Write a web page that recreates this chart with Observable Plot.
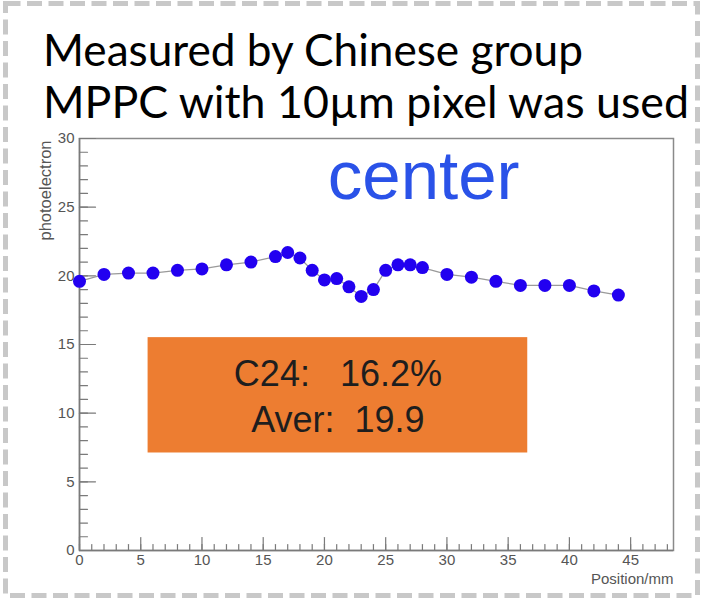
<!DOCTYPE html>
<html>
<head>
<meta charset="utf-8">
<script src="https://cdn.jsdelivr.net/npm/d3@7"></script>
<script src="https://cdn.jsdelivr.net/npm/@observablehq/plot@0.6"></script>
<style>
  html, body { margin: 0; padding: 0; background: #fff; }
  #wrap { position: relative; width: 702px; height: 599px; overflow: hidden; }
  #wrap > svg { position: absolute; left: 0; top: 0; }
</style>
</head>
<body>
<div id="wrap"></div>
<script>
// ---- data ----
const positions = [0, 2, 4, 6, 8, 10, 12, 14, 16, 17, 18, 19, 20, 21, 22, 23, 24, 25, 26, 27, 28, 30, 32, 34, 36, 38, 40, 42, 44];
const photoelectrons = [19.6, 20.1, 20.2, 20.2, 20.4, 20.5, 20.8, 21.0, 21.4, 21.7, 21.3, 20.4, 19.7, 19.8, 19.2, 18.5, 19.0, 20.4, 20.8, 20.8, 20.6, 20.1, 19.9, 19.6, 19.3, 19.3, 19.3, 18.9, 18.6];
const xTickLabels = [0, 5, 10, 15, 20, 25, 30, 35, 40, 45];
const yTickLabels = [0, 5, 10, 15, 20, 25, 30];
const xMinorTicks = d3.range(0, 49, 1);
const yMinorTicks = d3.range(0, 31, 1);
const titleLines = ["Measured by Chinese group", "MPPC with 10\u00b5m pixel was used"];
const boxLines = ["C24:\u00a0\u00a0\u00a016.2%", "Aver:\u00a0\u00a019.9"];
const panelLabel = "center";
const xLabel = "Position/mm";
const yLabel = "photoelectron";

const points = positions.map((x, i) => ({x, y: photoelectrons[i]}));

// annotation box (data units)
const box = {x1: 5.6, x2: 36.6, y1: 7.1, y2: 15.5};
const boxText = boxLines.map((t, i) => ({text: t, y: [12.85, 9.5][i]}));

const tickShape = {draw(ctx, l) { ctx.moveTo(0, 0); ctx.lineTo(0, -l); }};
const axisColor = "#7a7a7a";

const chart = Plot.plot({
  width: 702,
  height: 599,
  marginLeft: 79,
  marginRight: 29,
  marginTop: 138,
  marginBottom: 49,
  x: {domain: [0, 48.5]},
  y: {domain: [0, 30]},
  style: {fontFamily: "'Liberation Sans', Arial, sans-serif", background: "transparent", overflow: "visible"},
  marks: [
    Plot.rect([box], {x1: "x1", x2: "x2", y1: "y1", y2: "y2", fill: "#ED7D31"}),
    Plot.text(boxText, {x: (box.x1 + box.x2) / 2, y: "y", text: "text", fontSize: 36, fill: "#1e1e1e"}),
    Plot.text([panelLabel], {x: 28.1, y: 27.2, text: d => d, fontSize: 69, fill: "#2a52e8"}),
    Plot.frame({stroke: "#8a8a8a", strokeWidth: 1.5}),
    Plot.ruleY([0], {stroke: axisColor, strokeWidth: 1.5}),
    Plot.ruleX([0], {stroke: axisColor, strokeWidth: 1.5}),
    Plot.vector(yMinorTicks, {x: 0, y: d => d, length: 8, rotate: 90, anchor: "start", shape: tickShape, stroke: axisColor, strokeWidth: 1.2}),
    Plot.vector(yTickLabels, {x: 0, y: d => d, length: 16, rotate: 90, anchor: "start", shape: tickShape, stroke: axisColor, strokeWidth: 1.2}),
    Plot.vector(xMinorTicks, {x: d => d, y: 0, length: 6, rotate: 0, anchor: "start", shape: tickShape, stroke: axisColor, strokeWidth: 1.2}),
    Plot.vector(xTickLabels, {x: d => d, y: 0, length: 13, rotate: 0, anchor: "start", shape: tickShape, stroke: axisColor, strokeWidth: 1.2}),
    Plot.axisY({ticks: yTickLabels, tickSize: 0, tickPadding: 5, fontSize: 15, fill: "#555", label: null}),
    Plot.axisX({ticks: xTickLabels, tickSize: 0, tickPadding: 4, fontSize: 15, fill: "#555", label: null}),
    Plot.line(points, {x: "x", y: "y", stroke: "#9a9a9a", strokeWidth: 1.3}),
    Plot.dot(points, {x: "x", y: "y", r: 6.5, fill: "#2200f0", stroke: "none"}),
    Plot.text([xLabel], {frameAnchor: "bottom-right", text: d => d, textAnchor: "end", dy: 33, fontSize: 15, fill: "#555"}),
    Plot.text([yLabel], {frameAnchor: "top-left", text: d => d, rotate: -90, textAnchor: "end", dx: -40, dy: 2, fontSize: 16.5, fill: "#555"})
  ]
});

const wrap = document.getElementById("wrap");
wrap.appendChild(chart);

// overlay: dashed border and title lines
const ns = "http://www.w3.org/2000/svg";
const ov = document.createElementNS(ns, "svg");
ov.setAttribute("width", 702);
ov.setAttribute("height", 599);
ov.style.pointerEvents = "none";
const border = document.createElementNS(ns, "rect");
border.setAttribute("x", 5.5);
border.setAttribute("y", 3.5);
border.setAttribute("width", 692);
border.setAttribute("height", 592);
border.setAttribute("fill", "none");
border.setAttribute("stroke", "#c8c8c8");
border.setAttribute("stroke-width", 5);
border.setAttribute("stroke-dasharray", "15 6.5");
ov.appendChild(border);
const titleSpecs = [{y: 66, w: 540}, {y: 118, w: 646}];
titleLines.forEach((t, i) => {
  const tx = document.createElementNS(ns, "text");
  tx.setAttribute("x", 43);
  tx.setAttribute("y", titleSpecs[i].y);
  tx.setAttribute("font-family", "Lato, 'Open Sans', sans-serif");
  tx.setAttribute("font-size", 45);
  tx.setAttribute("fill", "#000");
  tx.setAttribute("textLength", titleSpecs[i].w);
  tx.setAttribute("lengthAdjust", "spacingAndGlyphs");
  tx.textContent = t;
  ov.appendChild(tx);
});
wrap.appendChild(ov);
</script>
</body>
</html>
